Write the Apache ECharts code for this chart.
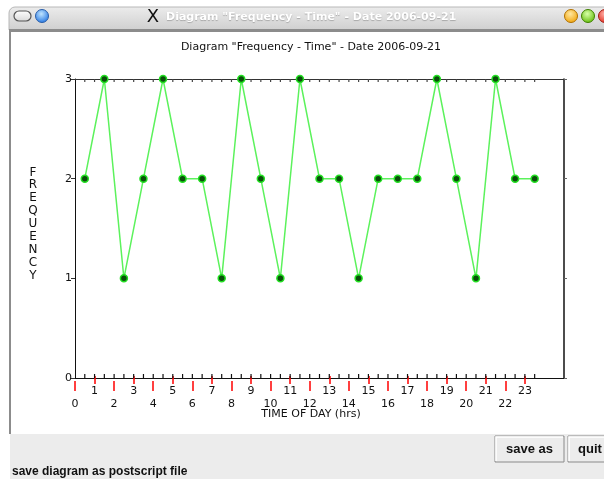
<!DOCTYPE html>
<html>
<head>
<meta charset="utf-8">
<script src="https://cdn.jsdelivr.net/npm/echarts@6/dist/echarts.min.js"></script>
<style>
  html, body { margin: 0; padding: 0; background: #ffffff; }
  #chart { width: 604px; height: 479px; }
</style>
</head>
<body>
<div id="chart"></div>
<script>
// Sample times (hour of day) and the frequency measured at each
const hours = [0.5, 1.5, 2.5, 3.5, 4.5, 5.5, 6.5, 7.5, 8.5, 9.5, 10.5, 11.5,
               12.5, 13.5, 14.5, 15.5, 16.5, 17.5, 18.5, 19.5, 20.5, 21.5, 22.5, 23.5];
const frequency = [2, 3, 1, 2, 3, 2, 2, 1, 3, 2, 1, 3,
                   2, 2, 1, 2, 2, 2, 3, 2, 1, 3, 2, 2];

// Hour ticks: odd hours on the upper row, even hours on the lower row
const oddHours = [1, 3, 5, 7, 9, 11, 13, 15, 17, 19, 21, 23];
const evenHours = [0, 2, 4, 6, 8, 10, 12, 14, 16, 18, 20, 22];
// Small frame ticks every half hour
const halfHours = [0.5, 1, 1.5, 2, 2.5, 3, 3.5, 4, 4.5, 5, 5.5, 6, 6.5, 7, 7.5, 8,
                   8.5, 9, 9.5, 10, 10.5, 11, 11.5, 12, 12.5, 13, 13.5, 14, 14.5, 15,
                   15.5, 16, 16.5, 17, 17.5, 18, 18.5, 19, 19.5, 20, 20.5, 21, 21.5,
                   22, 22.5, 23, 23.5];
const freqTicks = [0, 1, 2, 3];
const freqMin = 0;
const freqMax = 3;

const windowTitle = 'Diagram "Frequency - Time" - Date 2006-09-21';
const chartTitle = 'Diagram "Frequency - Time" - Date 2006-09-21';
const xTitle = 'TIME OF DAY (hrs)';
const yTitle = 'FREQUENCY';
const statusText = 'save diagram as postscript file';

const FONT = 'DejaVu Sans';
const chart = echarts.init(document.getElementById('chart'), null, { renderer: 'canvas' });

const points = hours.map((h, i) => [h, frequency[i]]);

function ball(cx, cy, r, c1, c2, stroke) {
  return {
    type: 'circle', shape: { cx: cx, cy: cy, r: r },
    style: {
      fill: new echarts.graphic.RadialGradient(0.45, 0.35, 0.7, [
        { offset: 0, color: c1 }, { offset: 1, color: c2 }
      ]),
      stroke: stroke, lineWidth: 1
    }
  };
}

const chrome = [
  // title bar
  {
    type: 'rect', shape: { x: 9, y: 7, width: 600, height: 23, r: [6, 0, 0, 0] },
    style: {
      fill: new echarts.graphic.LinearGradient(0, 0, 0, 1, [
        { offset: 0, color: '#ececec' }, { offset: 1, color: '#cfcfcf' }
      ]),
      stroke: '#b8b8b8', lineWidth: 1
    }, z: 1
  },
  { type: 'rect', shape: { x: 9, y: 29, width: 600, height: 3 }, style: { fill: '#8c8c8c' }, z: 2 },
  // left window border
  { type: 'rect', shape: { x: 9, y: 32, width: 2, height: 402 }, style: { fill: '#8c8c8c' }, z: 2 },
  // window controls
  {
    type: 'rect', shape: { x: 14, y: 11, width: 17, height: 10, r: 5 },
    style: {
      fill: new echarts.graphic.LinearGradient(0, 0, 0, 1, [
        { offset: 0, color: '#ffffff' }, { offset: 1, color: '#d8d8d8' }
      ]),
      stroke: '#555', lineWidth: 1.2
    }, z: 3
  },
  Object.assign(ball(42, 16, 6.5, '#bfe4ff', '#1a6fe0', '#2a5ea8'), { z: 3 }),
  Object.assign(ball(571, 16, 6.5, '#ffe7a0', '#f0a000', '#b07000'), { z: 3 }),
  Object.assign(ball(588, 16, 6.5, '#d8ffa8', '#5cb800', '#3f8000'), { z: 3 }),
  Object.assign(ball(605, 16, 6.5, '#ffb0a8', '#e02818', '#a01810'), { z: 3 }),
  {
    type: 'text', x: 153, y: 17, z: 3,
    style: { text: 'X', font: '18px "DejaVu Sans"', fill: '#111', align: 'center', verticalAlign: 'middle' }
  },
  {
    type: 'text', x: 166, y: 17, z: 3,
    style: {
      text: windowTitle, font: 'bold 11px "DejaVu Sans"', fill: '#ffffff',
      align: 'left', verticalAlign: 'middle',
      textShadowColor: '#a8a8a8', textShadowBlur: 1, textShadowOffsetX: 0, textShadowOffsetY: 1
    }
  },
  // bottom panel
  { type: 'rect', shape: { x: 10, y: 434, width: 600, height: 50 }, style: { fill: '#ececec' }, z: 1 },
  // buttons
  { type: 'rect', shape: { x: 495, y: 436, width: 69, height: 26 }, style: { fill: '#ececec', stroke: '#8a8a8a', lineWidth: 1 }, z: 2 },
  { type: 'polyline', shape: { points: [[496, 461], [496, 437], [563, 437]] }, style: { stroke: '#ffffff', lineWidth: 1.5, fill: null }, z: 3 },
  {
    type: 'text', x: 529.5, y: 449, z: 3,
    style: { text: 'save as', font: 'bold 13px "Liberation Sans"', fill: '#111', align: 'center', verticalAlign: 'middle' }
  },
  { type: 'rect', shape: { x: 568, y: 436, width: 50, height: 26 }, style: { fill: '#ececec', stroke: '#8a8a8a', lineWidth: 1 }, z: 2 },
  { type: 'polyline', shape: { points: [[569, 461], [569, 437], [610, 437]] }, style: { stroke: '#ffffff', lineWidth: 1.5, fill: null }, z: 3 },
  {
    type: 'text', x: 578, y: 449, z: 3,
    style: { text: 'quit', font: 'bold 13px "Liberation Sans"', fill: '#111', align: 'left', verticalAlign: 'middle' }
  },
  {
    type: 'text', x: 12, y: 472, z: 3,
    style: { text: statusText, font: 'bold 12px "Liberation Sans"', fill: '#111', align: 'left', verticalAlign: 'middle' }
  },
  // chart texts
  {
    type: 'text', x: 311, y: 47, z: 3,
    style: { text: chartTitle, font: '11px "DejaVu Sans"', fill: '#111', align: 'center', verticalAlign: 'middle' }
  },
  {
    type: 'text', x: 311, y: 414, z: 3,
    style: { text: xTitle, font: '11px "DejaVu Sans"', fill: '#111', align: 'center', verticalAlign: 'middle' }
  },
  {
    type: 'text', x: 33, y: 224, z: 3,
    style: {
      text: yTitle.split('').join('\n'), font: '12px "DejaVu Sans"', lineHeight: 12.9,
      fill: '#111', align: 'center', verticalAlign: 'middle'
    }
  }
];

const labelStyle = { color: '#111', fontFamily: FONT, fontSize: 11 };
const redTick = { color: '#ff0000', width: 1.5 };

// Short inner ticks along the bottom and top frame edges
function frameTicks(params, api) {
  const x = api.value(0);
  const bottom = api.coord([x, freqMin]);
  const top = api.coord([x, freqMax]);
  return {
    type: 'group',
    children: [
      { type: 'line', shape: { x1: bottom[0], y1: bottom[1], x2: bottom[0], y2: bottom[1] - 4 },
        style: { stroke: '#111', lineWidth: 1.2 } },
      { type: 'line', shape: { x1: top[0], y1: top[1], x2: top[0], y2: top[1] + 3 },
        style: { stroke: '#444', lineWidth: 1.2 } }
    ]
  };
}

chart.setOption({
  animation: false,
  backgroundColor: '#ffffff',
  graphic: { elements: chrome },
  grid: { left: 75, top: 79, width: 489, height: 299, containLabel: false },
  xAxis: [
    {
      // bottom frame edge
      type: 'value', gridIndex: 0, position: 'bottom', min: 0, max: 25,
      axisLine: { show: true, onZero: false, lineStyle: { color: '#111', width: 1 } },
      axisTick: { show: false },
      axisLabel: { show: false },
      splitLine: { show: false }
    },
    {
      // odd hours: red ticks straddling the edge, upper label row
      type: 'value', gridIndex: 0, position: 'bottom', offset: -2, min: 0, max: 25,
      axisLine: { show: false, onZero: false },
      axisTick: { show: true, customValues: oddHours, length: 8, lineStyle: redTick },
      axisLabel: { show: true, customValues: oddHours, margin: 10, ...labelStyle },
      splitLine: { show: false }
    },
    {
      // even hours: red ticks and lower label row
      type: 'value', gridIndex: 0, position: 'bottom', offset: 3, min: 0, max: 25,
      axisLine: { show: false, onZero: false },
      axisTick: { show: true, customValues: evenHours, length: 10, lineStyle: redTick },
      axisLabel: { show: true, customValues: evenHours, margin: 18, ...labelStyle },
      splitLine: { show: false }
    },
    {
      // top frame edge
      type: 'value', gridIndex: 0, position: 'top', min: 0, max: 25,
      axisLine: { show: true, onZero: false, lineStyle: { color: '#333', width: 1 } },
      axisTick: { show: false },
      axisLabel: { show: false },
      splitLine: { show: false }
    }
  ],
  yAxis: [
    {
      type: 'value', position: 'left', min: freqMin, max: freqMax, interval: 1,
      axisLine: { show: true, onZero: false, lineStyle: { color: '#111', width: 1 } },
      axisTick: { show: true, length: 4, customValues: freqTicks, lineStyle: { color: '#333' } },
      axisLabel: { show: true, margin: 3, customValues: freqTicks, ...labelStyle },
      splitLine: { show: false }
    },
    {
      type: 'value', position: 'right', min: freqMin, max: freqMax, interval: 1,
      axisLine: { show: true, onZero: false, lineStyle: { color: '#111', width: 1.5 } },
      axisTick: { show: true, length: 3, customValues: freqTicks, lineStyle: { color: '#666' } },
      axisLabel: { show: false },
      splitLine: { show: false }
    }
  ],
  series: [
    {
      type: 'custom', xAxisIndex: 0, yAxisIndex: 0,
      data: halfHours.map(h => [h]),
      renderItem: frameTicks,
      silent: true, z: 3
    },
    {
      type: 'line', xAxisIndex: 0, yAxisIndex: 0,
      data: points,
      symbol: 'circle', symbolSize: 7,
      lineStyle: { color: '#5cf25c', width: 1.5 },
      itemStyle: { color: '#0b4f0b', borderColor: '#22e022', borderWidth: 1.5 },
      z: 5
    }
  ]
});
</script>
</body>
</html>
